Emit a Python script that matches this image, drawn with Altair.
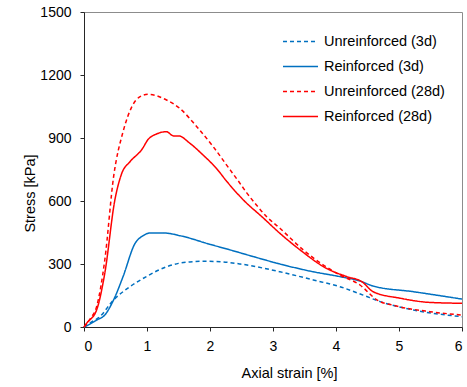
import altair as alt
import pandas as pd

# Unreinforced (3d)
u3_x = [0, 0.1, 0.25, 0.47, 0.73, 0.99, 1.31, 1.5, 1.68, 1.9, 2.1, 2.48, 3.11, 3.64, 4.06, 4.43, 4.7, 5.23, 6.0]
u3_y = [0, 20, 49, 129, 192, 240, 287, 303, 310, 313, 312, 300, 263, 224, 192, 152, 121, 81, 49]
# Reinforced (3d)
r3_x = [0, 0.1, 0.2, 0.33, 0.47, 0.62, 0.81, 0.94, 1.05, 1.26, 1.52, 1.63, 1.95, 2.32, 2.69, 3.11, 3.64, 4.06, 4.38, 4.59, 5.23, 6.0]
r3_y = [0, 15, 33, 57, 129, 240, 398, 435, 448, 448, 435, 427, 398, 367, 335, 300, 263, 240, 219, 195, 168, 133]
# Unreinforced (28d)
u28_x = [0, 0.1, 0.2, 0.33, 0.47, 0.62, 0.76, 0.89, 1.02, 1.31, 1.52, 1.79, 2.05, 2.32, 2.45, 2.58, 2.74, 2.9, 3.11, 3.48, 3.8, 4.06, 4.38, 4.65, 4.96, 5.49, 6.0]
u28_y = [0, 40, 97, 319, 716, 930, 1049, 1097, 1108, 1081, 1041, 954, 859, 748, 695, 640, 580, 525, 470, 367, 295, 248, 200, 129, 100, 73, 57]
# Reinforced (28d)
r28_x = [0, 0.04, 0.2, 0.33, 0.49, 0.6, 0.73, 0.92, 1.02, 1.15, 1.31, 1.42, 1.5, 1.68, 1.89, 2.1, 2.27, 2.53, 2.85, 3.11, 3.43, 3.85, 4.17, 4.41, 4.59, 5.02, 5.49, 6.0]
r28_y = [0, 17, 81, 256, 605, 732, 787, 846, 894, 919, 930, 910, 910, 875, 819, 756, 692, 605, 518, 446, 367, 279, 240, 216, 168, 137, 117, 113]

series_names = ["Unreinforced (3d)", "Reinforced (3d)", "Unreinforced (28d)", "Reinforced (28d)"]
series_colors = ["#0070C0", "#0070C0", "#FF0000", "#FF0000"]
series_dash = [[4, 3], [1, 0], [4, 3], [1, 0]]

rows = []
for name, xs, ys in zip(series_names, [u3_x, r3_x, u28_x, r28_x], [u3_y, r3_y, u28_y, r28_y]):
    for i, (a, b) in enumerate(zip(xs, ys)):
        rows.append({"series": name, "strain": a, "stress": b, "order": i})
df = pd.DataFrame(rows)

FONT = "Liberation Sans"

chart = alt.Chart(df).mark_line(strokeWidth=1.5, interpolate="monotone").encode(
    x=alt.X("strain:Q", scale=alt.Scale(domain=[0, 6], nice=False),
            axis=alt.Axis(title="Axial strain [%]", values=[0, 1, 2, 3, 4, 5, 6], format="d",
                          titleX=205, titleY=50, titleBaseline="alphabetic", titleAlign="center")),
    y=alt.Y("stress:Q", scale=alt.Scale(domain=[0, 1500], nice=False),
            axis=alt.Axis(title="Stress [kPa]", values=[0, 300, 600, 900, 1200, 1500], format="d",
                          titleX=-50, titleY=181, titleBaseline="alphabetic", titleAlign="center")),
    color=alt.Color("series:N", scale=alt.Scale(domain=series_names, range=series_colors),
                    legend=alt.Legend(title=None, orient="none", legendX=198, legendY=11,
                                      symbolType="stroke", symbolSize=1225, symbolStrokeWidth=1.5,
                                      labelFontSize=14.5, labelFont=FONT, labelColor="#000",
                                      labelOffset=5, rowPadding=0)),
    strokeDash=alt.StrokeDash("series:N", scale=alt.Scale(domain=series_names, range=series_dash),
                              legend=None),
    order="order:Q",
    detail="series:N",
).properties(
    width=378, height=315,
    padding={"left": 84, "top": 12, "right": 5, "bottom": 60},
    autosize=alt.AutoSizeParams(type="none"),
).configure_view(
    stroke="#8c8c8c", strokeWidth=1
).configure_axis(
    grid=False, domainColor="#262626", tickColor="#262626", tickSize=4,
    labelFont=FONT, labelFontSize=14, labelColor="#000", labelPadding=8,
    titleFont=FONT, titleFontSize=14.5, titleColor="#000", titleFontWeight="normal",
).configure_axisY(labelPadding=9)

chart.save("out.html", embed_options={"renderer": "svg", "actions": False})
